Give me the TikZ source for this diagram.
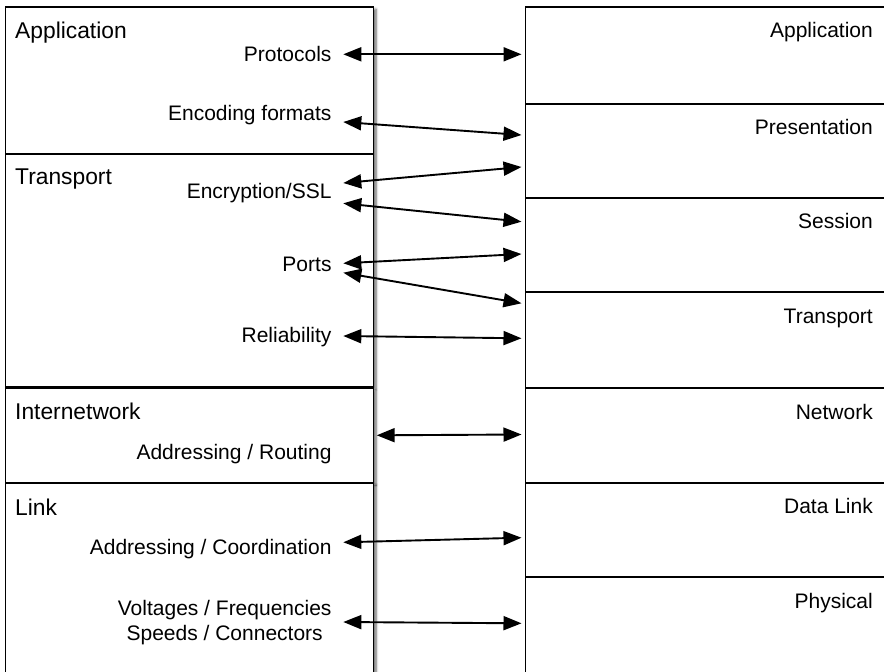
\documentclass[tikz,border=0pt]{standalone}
\usepackage{fontspec}
\setmainfont{Liberation Sans}
\usetikzlibrary{arrows.meta,shadows.blur}
\begin{document}
\begin{tikzpicture}[x=1pt,y=-1pt,
  box/.style={draw=black,line width=1.9pt,fill=white},
  sbox/.style={box,blur shadow={shadow xshift=2.5pt,shadow yshift=-2pt,shadow blur steps=6,shadow blur radius=2.5pt,shadow opacity=60}},
  divider/.style={draw=black,line width=1.9pt},
  head/.style={anchor=base west,inner sep=0pt,font=\fontsize{22.8}{27}\selectfont},
  item/.style={anchor=base east,inner sep=0pt,font=\fontsize{21}{25}\selectfont},
  osi/.style={anchor=base east,inner sep=0pt,font=\fontsize{21}{25}\selectfont},
  link/.style={line width=1.9pt,{Triangle[length=18pt,width=14pt]}-{Triangle[length=18pt,width=14pt]}},
]
\useasboundingbox (0,0) rectangle (884,672);
\begin{scope}
\clip (0,0) rectangle (884,672);
% left (TCP/IP) stack
\path[sbox] (5.5,7.3) rectangle (373.5,387);
\draw[divider] (5.5,154) -- (373.5,154);
\path[sbox] (5.5,388.5) rectangle (373.5,483);
\path[sbox] (5.5,483) rectangle (373.5,700);
% right (OSI) stack
\path[box] (525.5,7.3) rectangle (900,700);
\foreach \yy in {104,198,292,388.3,482.7,577}
  \draw[divider] (525.5,\yy) -- (900,\yy);
\end{scope}

% left headings
\node[head] (lapp) at (15,38.3) {Application};
\node[head] (ltr) at (15,184) {Transport};
\node[head] (lint) at (15,419) {Internetwork};
\node[head] (llink) at (15,515) {Link};

% left items
\node[item] (proto) at (331.7,61.5) {Protocols};
\node[item] (enc) at (331.7,120.5) {Encoding formats};
\node[item] (ssl) at (331.7,198.5) {Encryption/SSL};
\node[item] (ports) at (331.7,271.5) {Ports};
\node[item] (rel) at (331.7,342) {Reliability};
\node[item] (route) at (331.7,459.5) {Addressing / Routing};
\node[item] (coord) at (331.7,554) {Addressing / Coordination};
\node[item,align=center] (volt) at (331.7,640) {Voltages / Frequencies\\Speeds / Connectors};

% right OSI labels
\node[osi] (rapp) at (873,37.3) {Application};
\node[osi] (rpres) at (873,134) {Presentation};
\node[osi] (rsess) at (873,228.5) {Session};
\node[osi] (rtr) at (873,323) {Transport};
\node[osi] (rnet) at (873,419) {Network};
\node[osi] (rdl) at (873,513) {Data Link};
\node[osi] (rphy) at (873,608) {Physical};

% connector ends
\coordinate (a1) at (343.3,54.3);   \coordinate (b1) at (521.5,54.3);
\coordinate (a2) at (343.3,122);    \coordinate (b2) at (521.5,135);
\coordinate (a3) at (343.3,183);    \coordinate (b3) at (521.5,167);
\coordinate (a4) at (343.3,203.3);  \coordinate (b4) at (521.5,221.7);
\coordinate (a5) at (343.3,263.3);  \coordinate (b5) at (521.5,254);
\coordinate (a6) at (343.3,272.7);  \coordinate (b6) at (521.5,303.3);
\coordinate (a7) at (343.3,336);    \coordinate (b7) at (521.5,338.3);
\coordinate (a8) at (376.7,435.3);  \coordinate (b8) at (521.5,434.5);
\coordinate (a9) at (343.3,542.3);  \coordinate (b9) at (521.5,537.7);
\coordinate (a10) at (343.3,622);   \coordinate (b10) at (521.5,623.3);

\foreach \i in {1,...,10}
  \draw[link] (a\i) -- (b\i);
\end{tikzpicture}
\end{document}
